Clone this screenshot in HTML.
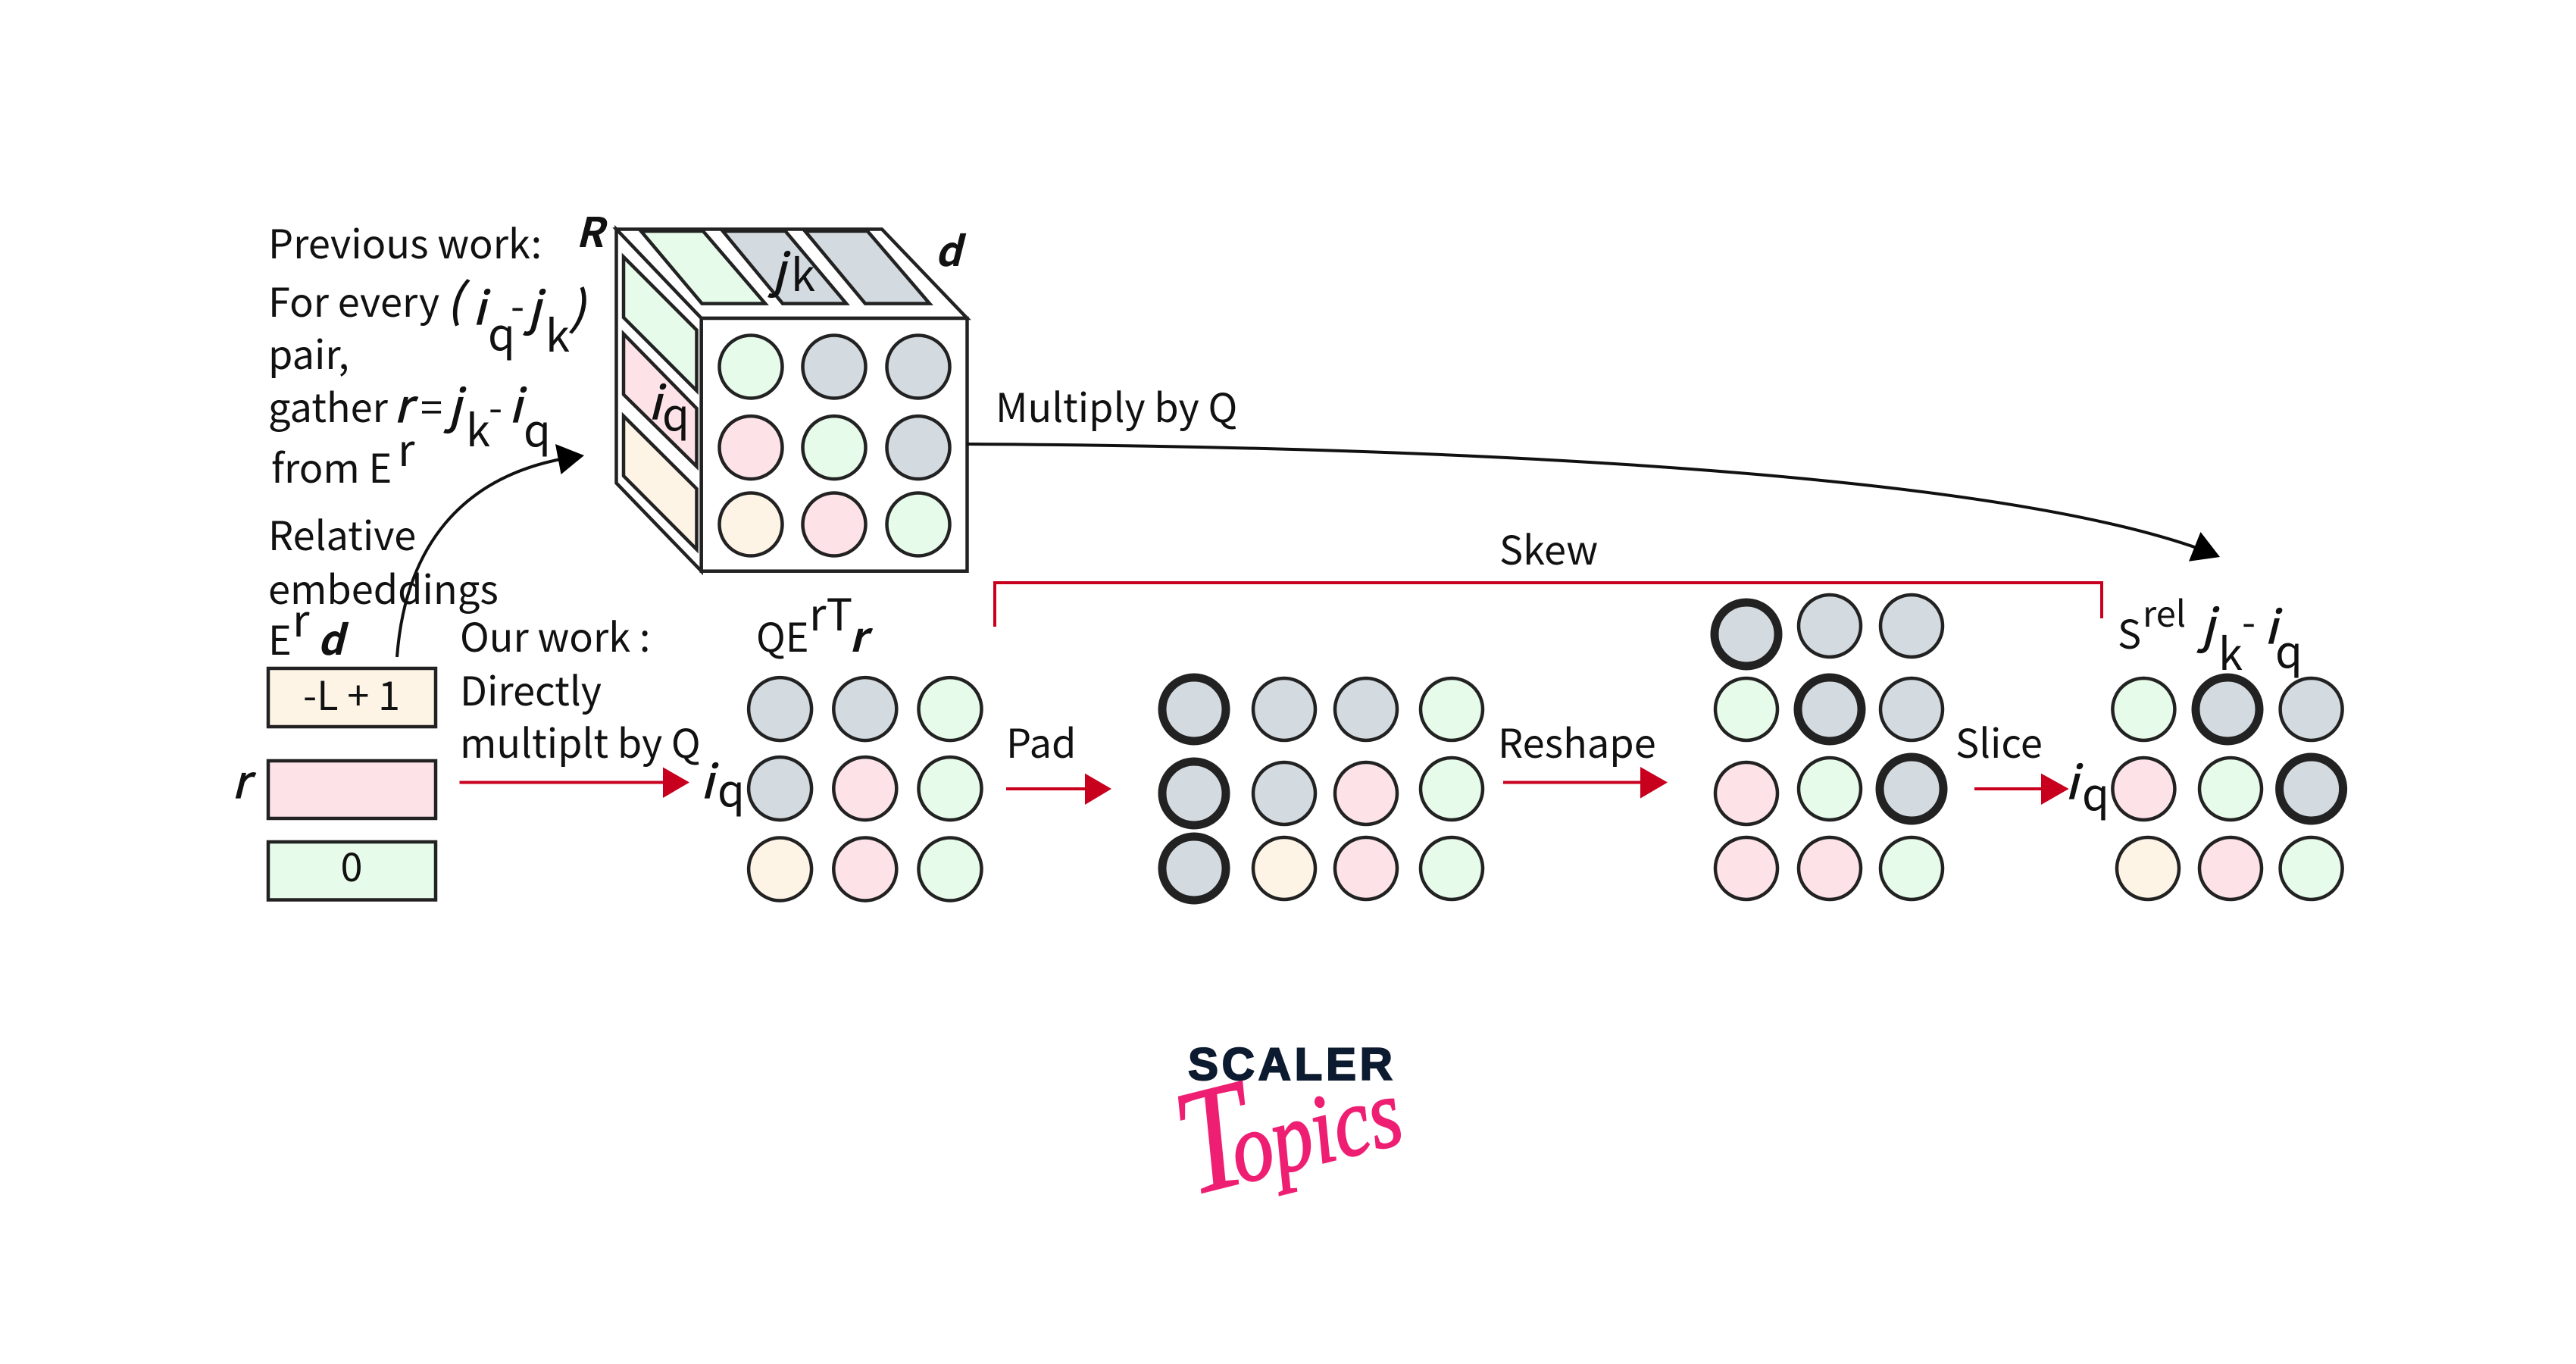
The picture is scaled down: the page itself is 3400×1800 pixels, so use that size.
<!DOCTYPE html>
<html><head><meta charset="utf-8"><style>
html,body{margin:0;padding:0;background:#fff}
svg{display:block}
text{font-family:"Noto Sans CJK JP","Liberation Sans",sans-serif;font-size:52.3px;fill:#111}
.b{font-weight:700;font-style:italic;font-size:54px}
.m{font-style:italic;font-size:60px;stroke:#111;stroke-width:1.2}
.s{font-size:58px}
.i{font-style:italic}
.g{fill:#e6fbe9}.y{fill:#d3dbe1}.p{fill:#fde3e8}.c{fill:#fef4e6}
circle{stroke:#222;stroke-width:4.5}
circle.t{stroke-width:11}
.f{stroke:#222;stroke-width:4.5;stroke-linejoin:miter}
.l{fill:none;stroke:#111;stroke-width:4}
.rl{fill:none;stroke:#c8001e;stroke-width:4}
.ra{fill:#c8001e}
</style></head><body>
<svg width="3400" height="1800" viewBox="0 0 3400 1800" xmlns="http://www.w3.org/2000/svg">
<rect width="3400" height="1800" fill="#fff"/>
<!-- cube -->
<polygon points="813.5,302.5 1164,302.5 1276.5,420 925.7,420" fill="#fff" class="f"/>
<polygon points="813.5,302.5 925.7,420 925.7,753.7 813.5,637.5" fill="#fff" class="f"/>
<rect x="925.7" y="420" width="350.8" height="333.7" fill="#fff" class="f"/>
<polygon class="g f" points="846,305 928,305 1010,400.6 926.5,400.6"/>
<polygon class="y f" points="954,305 1036.6,305 1117,400.6 1033,400.6"/>
<polygon class="y f" points="1062.5,305 1145,305 1227,400.6 1142,400.6"/>
<polygon class="g f" points="823,339 919.5,435.6 919.5,515.6 823,419"/>
<polygon class="p f" points="823,440.6 919.5,539 919.5,615.6 823,520.6"/>
<polygon class="c f" points="823,549 919.5,645 919.5,725 823,628"/>
<circle class="g" cx="991" cy="484" r="41.5"/><circle class="y" cx="1101" cy="484" r="41.5"/><circle class="y" cx="1212" cy="484" r="41.5"/>
<circle class="p" cx="991" cy="590.6" r="41.5"/><circle class="g" cx="1101" cy="590.6" r="41.5"/><circle class="y" cx="1212" cy="590.6" r="41.5"/>
<circle class="c" cx="991" cy="692" r="41.5"/><circle class="p" cx="1101" cy="692" r="41.5"/><circle class="g" cx="1212" cy="692" r="41.5"/>
<text class="b" x="760" y="326">R</text>
<text class="b" x="1234" y="351">d</text>
<text class="m" x="1020" y="378">j</text><text class="s" x="1044" y="384">k</text>
<text class="m" x="856" y="553">i</text><text class="s" x="874" y="568">q</text>
<!-- left text -->
<text x="354" y="341">Previous work:</text>
<text x="354" y="418">For every</text>
<text class="m" x="590" y="418">(</text>
<text class="m" x="624" y="428">i</text>
<text class="s" x="644" y="462">q</text>
<text x="674" y="423">-</text>
<text class="m" x="697" y="428">j</text>
<text class="s" x="720" y="464">k</text>
<text class="m" x="752" y="428">)</text>
<text x="354" y="487">pair,</text>
<text x="354" y="557">gather</text>
<text class="m" x="520" y="557">r</text>
<text x="555" y="557">=</text>
<text class="m" x="592" y="557">j</text>
<text class="s" x="615" y="589">k</text>
<text x="645" y="557">-</text>
<text class="m" x="672" y="557">i</text>
<text class="s" x="691" y="589">q</text>
<text x="358" y="637">from E</text>
<text class="s" x="525" y="615">r</text>
<text x="354" y="726">Relative</text>
<text x="354" y="797">embeddings</text>
<text x="354" y="864">E</text>
<text class="s" x="386" y="840">r</text>
<text class="b" x="419" y="864">d</text>
<path class="l" d="M524,867 C535,720 610,630 745,605"/>
<polygon points="771,601 733,586 740.5,626" fill="#000"/>
<!-- boxes -->
<rect class="c f" x="354" y="882" width="221" height="77"/>
<rect class="p f" x="354" y="1004" width="221" height="76"/>
<rect class="g f" x="354" y="1111" width="221" height="76.5"/>
<text x="464" y="937" text-anchor="middle">-L + 1</text>
<text x="464" y="1163" text-anchor="middle">0</text>
<text class="m" x="306" y="1053">r</text>
<text x="607" y="860">Our work :</text>
<text x="607" y="931">Directly</text>
<text x="607" y="1000">multiplt by Q</text>
<path class="rl" d="M606.5,1032.5H880"/>
<polygon class="ra" points="910,1032.5 875,1012.5 875,1053"/>
<text class="m" x="925" y="1053">i</text><text class="s" x="947" y="1064">q</text>
<text x="998" y="860">QE</text><text class="s" x="1068" y="832">rT</text><text class="b" x="1121" y="860">r</text>
<!-- grid 1 -->
<circle class="y" cx="1029.6" cy="935.6" r="41.5"/><circle class="y" cx="1141.8" cy="935.6" r="41.5"/><circle class="g" cx="1254" cy="935.6" r="41.5"/>
<circle class="y" cx="1029.6" cy="1040.6" r="41.5"/><circle class="p" cx="1141.8" cy="1040.6" r="41.5"/><circle class="g" cx="1254" cy="1040.6" r="41.5"/>
<circle class="c" cx="1029.6" cy="1147" r="41.5"/><circle class="p" cx="1141.8" cy="1147" r="41.5"/><circle class="g" cx="1254" cy="1147" r="41.5"/>
<!-- multiply -->
<text x="1314" y="557">Multiply by Q</text>
<path class="l" d="M1276,586 C2000,590 2640,630 2905,725"/>
<polygon points="2930,735 2904.5,702 2889,740.7" fill="#000"/>
<!-- skew -->
<text x="1979" y="745">Skew</text>
<path d="M1313,827V769H2774V816" fill="none" stroke="#c8001e" stroke-width="4"/>
<!-- pad -->
<text x="1328" y="1000">Pad</text>
<path class="rl" d="M1328,1041H1440"/>
<polygon class="ra" points="1467,1041 1432,1020.6 1432,1062"/>
<!-- grid 2 -->
<circle class="y t" cx="1576" cy="936" r="42"/><circle class="y" cx="1695" cy="936" r="41"/><circle class="y" cx="1803" cy="936" r="41"/><circle class="g" cx="1916" cy="936" r="41"/>
<circle class="y t" cx="1576" cy="1047" r="42"/><circle class="y" cx="1695" cy="1047" r="41"/><circle class="p" cx="1803" cy="1047" r="41"/><circle class="g" cx="1916" cy="1041" r="41"/>
<circle class="y t" cx="1576" cy="1146" r="42"/><circle class="c" cx="1695" cy="1146" r="41"/><circle class="p" cx="1803" cy="1146" r="41"/><circle class="g" cx="1916" cy="1146" r="41"/>
<!-- reshape -->
<text x="1977" y="1000">Reshape</text>
<path class="rl" d="M1984,1032.5H2170"/>
<polygon class="ra" points="2201,1032.5 2165,1012 2165,1053.6"/>
<!-- grid 3 -->
<circle class="y t" cx="2305" cy="837" r="42"/><circle class="y" cx="2415" cy="826" r="41"/><circle class="y" cx="2523" cy="826" r="41"/>
<circle class="g" cx="2305" cy="936" r="41"/><circle class="y t" cx="2415" cy="936" r="42"/><circle class="y" cx="2523" cy="936" r="41"/>
<circle class="p" cx="2305" cy="1047" r="41"/><circle class="g" cx="2415" cy="1041" r="41"/><circle class="y t" cx="2523" cy="1041" r="42"/>
<circle class="p" cx="2305" cy="1146" r="41"/><circle class="p" cx="2415" cy="1146" r="41"/><circle class="g" cx="2523" cy="1146" r="41"/>
<!-- slice -->
<text x="2581" y="1000">Slice</text>
<path class="rl" d="M2606,1041H2700"/>
<polygon class="ra" points="2730.6,1041 2694,1020.6 2694,1062"/>
<text class="m" x="2726" y="1054">i</text><text class="s" x="2748" y="1069">q</text>
<text x="2795" y="856">S</text><text x="2828" y="827" style="font-size:47px">rel</text>
<text class="m" x="2906" y="847">j</text><text class="s" x="2928" y="884">k</text><text x="2959" y="840">-</text><text class="m" x="2989" y="849">i</text><text class="s" x="3003" y="881">q</text>
<!-- grid 4 -->
<circle class="g" cx="2829.4" cy="936" r="41"/><circle class="y t" cx="2940" cy="936" r="42"/><circle class="y" cx="3050.6" cy="936" r="41"/>
<circle class="p" cx="2829.4" cy="1041" r="41"/><circle class="g" cx="2944" cy="1041" r="41"/><circle class="y t" cx="3050.6" cy="1041" r="42"/>
<circle class="c" cx="2835" cy="1146" r="41"/><circle class="p" cx="2944" cy="1146" r="41"/><circle class="g" cx="3050.6" cy="1146" r="41"/>
<!-- logo -->
<text x="1568" y="1425" textLength="270" lengthAdjust="spacing" style="font-family:'Liberation Sans',sans-serif;font-weight:700;font-size:60px;fill:#0d1b30;stroke:#0d1b30;stroke-width:2">SCALER</text>
<g transform="translate(1572 1578) rotate(-14) scale(.9 1.08)">
<text x="0" y="0" style="font-family:'Liberation Serif',serif;font-style:italic;font-size:185px;fill:#ee1f72;stroke:#ee1f72;stroke-width:1">T<tspan dx="-30" style="font-size:120px;stroke-width:2">opics</tspan></text>
</g>
</svg>
</body></html>
